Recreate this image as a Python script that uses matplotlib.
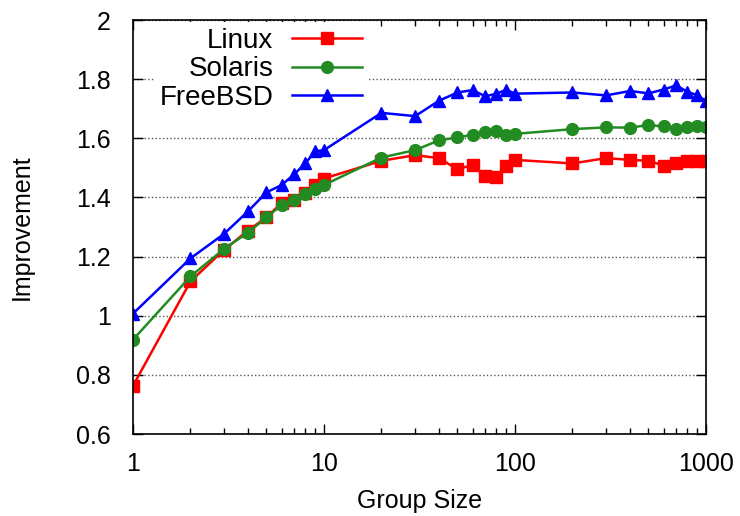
import matplotlib
matplotlib.use("Agg")
import matplotlib.pyplot as plt
from matplotlib import font_manager
from matplotlib.ticker import LogLocator, FixedLocator, NullFormatter, FixedFormatter

group_size = [1, 2, 3, 4, 5, 6, 7, 8, 9, 10,
              20, 30, 40, 50, 60, 70, 80, 90, 100,
              200, 300, 400, 500, 600, 700, 800, 900, 1000]

linux = [0.763, 1.116, 1.223, 1.288, 1.333, 1.381, 1.39, 1.415, 1.442, 1.464,
         1.524, 1.543, 1.533, 1.495, 1.51, 1.471, 1.468, 1.507, 1.527,
         1.515, 1.533, 1.527, 1.524, 1.508, 1.518, 1.524, 1.524, 1.524]

solaris = [0.919, 1.133, 1.226, 1.281, 1.333, 1.374, 1.393, 1.411, 1.428, 1.442,
           1.535, 1.56, 1.593, 1.603, 1.612, 1.622, 1.625, 1.612, 1.615,
           1.631, 1.637, 1.636, 1.645, 1.64, 1.631, 1.638, 1.64, 1.638]

freebsd = [1.007, 1.194, 1.277, 1.353, 1.417, 1.442, 1.479, 1.516, 1.556, 1.56,
           1.686, 1.675, 1.727, 1.755, 1.763, 1.742, 1.751, 1.764, 1.751,
           1.755, 1.745, 1.76, 1.752, 1.765, 1.779, 1.757, 1.746, 1.726]

yticks = [0.6, 0.8, 1, 1.2, 1.4, 1.6, 1.8, 2]
ytick_labels = ['0.6', '0.8', '1', '1.2', '1.4', '1.6', '1.8', '2']

# condensed font if we have it
names = {f.name for f in font_manager.fontManager.ttflist}
fam = 'Liberation Sans Narrow' if 'Liberation Sans Narrow' in names else 'Liberation Sans'
plt.rcParams['font.family'] = [fam, 'DejaVu Sans']

fig = plt.figure(figsize=(7.4, 5.16), dpi=100)
ax = fig.add_axes([0.1797, 0.1589, 0.7743, 0.8023])

ax.plot(group_size, linux, color='#ff0000', lw=1.8, marker='s', ms=8.5, label='Linux')
ax.plot(group_size, solaris, color='#228b22', lw=1.8, marker='o', ms=8.5, label='Solaris')
ax.plot(group_size, freebsd, color='#0000ff', lw=1.8, marker='^', ms=8.5, label='FreeBSD')

ax.set_xscale('log')
ax.set_xlim(1, 1000)
ax.set_ylim(0.6, 2.0)
ax.xaxis.set_major_locator(FixedLocator([1, 10, 100, 1000]))
ax.xaxis.set_major_formatter(FixedFormatter(['1', '10', '100', '1000']))
ax.xaxis.set_minor_locator(LogLocator(base=10, subs=range(2, 10)))
ax.xaxis.set_minor_formatter(NullFormatter())
ax.yaxis.set_major_locator(FixedLocator(yticks))
ax.yaxis.set_major_formatter(FixedFormatter(ytick_labels))

ax.tick_params(which='both', direction='in', top=True, right=True, labelsize=18, width=1)
ax.tick_params(which='major', length=7)
ax.tick_params(which='minor', length=4)
ax.tick_params(axis='x', pad=13)
ax.tick_params(axis='y', pad=16)
for s in ax.spines.values():
    s.set_linewidth(1.2)

ax.yaxis.grid(True, linestyle=':', color='#555555', lw=1)
ax.set_axisbelow(True)

ax.set_xlabel('Group Size', fontsize=18, labelpad=9)
ax.set_ylabel('Improvement', fontsize=18, labelpad=30)

leg = ax.legend(loc='upper right', bbox_to_anchor=(0.41, 0.995), markerfirst=False,
                fontsize=20, handlelength=2.55, handletextpad=0.65, labelspacing=0.1,
                borderpad=0.2, borderaxespad=0, frameon=True, fancybox=False)
leg.get_frame().set_facecolor('white')
leg.get_frame().set_edgecolor('none')
leg.get_frame().set_alpha(1)

fig.savefig('out.png', dpi=100)
